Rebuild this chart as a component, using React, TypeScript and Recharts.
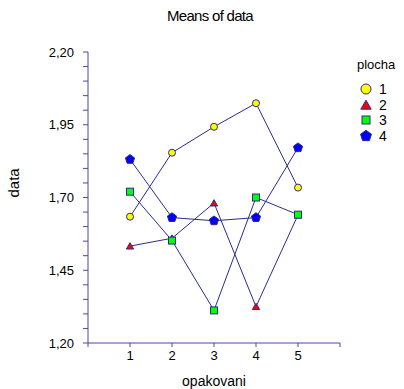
import { Line, LineChart, XAxis, YAxis, Label } from 'recharts';

const opakovani = [1, 2, 3, 4, 5];
const plocha1 = [1.634, 1.854, 1.943, 2.024, 1.734];
const plocha2 = [1.533, 1.56, 1.681, 1.325, 1.64];
const plocha3 = [1.72, 1.552, 1.312, 1.7, 1.641];
const plocha4 = [1.831, 1.631, 1.62, 1.631, 1.871];

const seriesNames = ['1', '2', '3', '4'];
const seriesColors = ['#ffff00', '#ff0000', '#00ff00', '#0000ff'];
const seriesShapes = ['circle', 'triangle', 'square', 'pentagon'];

const xTicks = [0, 1, 2, 3, 4, 5, 6];
const yTicks = [
  1.2, 1.25, 1.3, 1.35, 1.4, 1.45, 1.5, 1.55, 1.6, 1.65, 1.7, 1.75, 1.8, 1.85,
  1.9, 1.95, 2.0, 2.05, 2.1, 2.15, 2.2,
];
const yMajor = [1.2, 1.45, 1.7, 1.95, 2.2];

const data = opakovani.map((x, i) => ({
  x,
  s1: plocha1[i],
  s2: plocha2[i],
  s3: plocha3[i],
  s4: plocha4[i],
}));

const LINE = '#2b2b8c';
const AXIS = '#4848a8';
const FONT = '"Liberation Sans", Arial, sans-serif';

const Marker = ({ shape, cx, cy, fill, r }: any) => {
  if (shape === 'circle')
    return <circle cx={cx} cy={cy} r={r} fill={fill} stroke={LINE} strokeWidth={1} />;
  if (shape === 'square')
    return (
      <rect x={cx - r} y={cy - r} width={2 * r} height={2 * r} fill={fill} stroke={LINE} strokeWidth={1} />
    );
  const n = shape === 'triangle' ? 3 : 5;
  const rr = shape === 'triangle' ? r * 1.2 : r * 1.15;
  const pts = [];
  for (let k = 0; k < n; k++) {
    const a = -Math.PI / 2 + (k * 2 * Math.PI) / n;
    pts.push(`${cx + rr * Math.cos(a)},${cy + rr * Math.sin(a) + (n === 3 ? rr * 0.2 : 0)}`);
  }
  return <polygon points={pts.join(' ')} fill={fill} stroke={LINE} strokeWidth={1} />;
};

const makeDot = (idx: number) => (props: any) => (
  <Marker
    key={`d${idx}-${props.index}`}
    shape={seriesShapes[idx]}
    cx={props.cx}
    cy={props.cy}
    fill={seriesColors[idx]}
    r={idx === 3 ? 4.2 : 3.5}
  />
);

export default function App() {
  return (
    <div style={{ position: 'absolute', left: 0, top: 0, width: 404, height: 389, background: '#fff', fontFamily: FONT }}>
      <div
        style={{
          position: 'absolute',
          left: 0,
          width: 420,
          top: 7,
          textAlign: 'center',
          fontSize: 15,
          letterSpacing: -0.7,
          color: '#000',
        }}
      >
        Means of data
      </div>
      <LineChart width={404} height={389} data={data} margin={{ top: 52, right: 64, bottom: 0, left: 0 }}>
        <XAxis
          dataKey="x"
          type="number"
          domain={[0, 6]}
          ticks={xTicks}
          tickFormatter={(v: number) => (opakovani.includes(v) ? String(v) : '')}
          stroke={AXIS}
          tickSize={4}
          tickMargin={4}
          height={46}
          tick={{ fill: '#000', fontSize: 13, fontFamily: FONT }}
        >
          <Label value="opakovani" position="insideBottom" offset={3} fill="#000" fontSize={14} fontFamily={FONT} />
        </XAxis>
        <YAxis
          type="number"
          domain={[1.2, 2.2]}
          ticks={yTicks}
          interval={0}
          tickFormatter={(v: number) =>
            yMajor.some((m) => Math.abs(m - v) < 1e-6) ? v.toFixed(2).replace('.', ',') : ''
          }
          stroke={AXIS}
          tickSize={5}
          tickMargin={9}
          width={88}
          tick={{ fill: '#000', fontSize: 13, fontFamily: FONT }}
        >
          <Label value="data" angle={-90} position="insideLeft" offset={14} fill="#000" fontSize={15} fontFamily={FONT} />
        </YAxis>
        {['s1', 's2', 's3', 's4'].map((k, i) => (
          <Line
            key={k}
            dataKey={k}
            type="linear"
            stroke={LINE}
            strokeWidth={1}
            dot={makeDot(i)}
            activeDot={false}
            isAnimationActive={false}
          />
        ))}
      </LineChart>
      <div style={{ position: 'absolute', left: 357, top: 57, fontSize: 13, color: '#000' }}>plocha</div>
      {seriesNames.map((name, i) => (
        <div
          key={name}
          style={{ position: 'absolute', left: 358, top: 81 + i * 15.7, height: 16, display: 'flex', alignItems: 'center', fontSize: 14 }}
        >
          <svg width={16} height={16}>
            <Marker shape={seriesShapes[i]} cx={8} cy={8} fill={seriesColors[i]} r={i === 2 ? 4 : 5} />
          </svg>
          <span style={{ marginLeft: 5 }}>{name}</span>
        </div>
      ))}
    </div>
  );
}
